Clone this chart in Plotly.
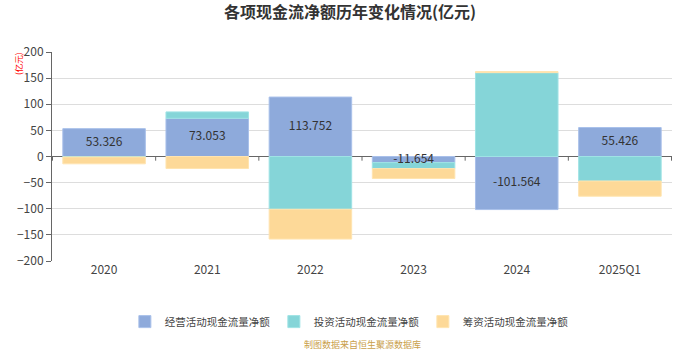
import plotly.graph_objects as go

categories = ["2020", "2021", "2022", "2023", "2024", "2025Q1"]
operating = [53.326, 73.053, 113.752, -11.654, -101.564, 55.426]
investing = [-1.0, 12.3, -101.0, -11.5, 160.5, -47.0]
financing = [-13.0, -23.0, -57.0, -19.0, 2.0, -29.0]
names = ["经营活动现金流量净额", "投资活动现金流量净额", "筹资活动现金流量净额"]
colors = ["#8eaadb", "#85d5d8", "#fdd998"]
line_colors = ["#a9c0ea", "#9fe3e5", "#ffe4b0"]
y_ticks = [-200, -150, -100, -50, 0, 50, 100, 150, 200]

font_family = "Noto Sans CJK SC, Microsoft YaHei, sans-serif"

fig = go.Figure()
fig.add_trace(go.Bar(
    x=categories, y=operating, name=names[0],
    marker=dict(color=colors[0], line=dict(color=line_colors[0], width=1)),
))
fig.add_trace(go.Bar(
    x=categories, y=investing, name=names[1],
    marker=dict(color=colors[1], line=dict(color=line_colors[1], width=1)),
))
fig.add_trace(go.Bar(
    x=categories, y=financing, name=names[2],
    marker=dict(color=colors[2], line=dict(color=line_colors[2], width=1)),
))
# value labels for the operating series, drawn on top of all bars
fig.add_trace(go.Scatter(
    x=categories, y=[v / 2 for v in operating], mode="text",
    text=[f"{v:.3f}" for v in operating], textposition="middle center",
    textfont=dict(size=12, color="#333333"), showlegend=False, hoverinfo="skip",
))

# small category-boundary ticks on the zero axis line
shapes = []
for i in range(len(categories) + 1):
    shapes.append(dict(type="line", xref="x", yref="y", x0=i - 0.5, x1=i - 0.5,
                       y0=0, y1=-8, line=dict(color="#666666", width=1)))

fig.update_layout(
    width=700, height=350,
    barmode="relative", bargap=0.2,
    plot_bgcolor="white", paper_bgcolor="white",
    margin=dict(l=52, r=28, t=52, b=89),
    font=dict(family=font_family, size=12, color="#333333"),
    title=dict(text="<b>各项现金流净额历年变化情况(亿元)</b>", x=0.5, xanchor="center",
               y=0.964, yanchor="middle", font=dict(size=16, color="#333333")),
    legend=dict(orientation="h", x=0.478, xanchor="center", y=-0.29, yanchor="middle",
                font=dict(size=10.5, color="#444444"), traceorder="normal",
                itemwidth=30, entrywidth=104, entrywidthmode="pixels"),
    showlegend=True,
    shapes=shapes,
    annotations=[
        dict(text="(亿元)", xref="paper", yref="paper", x=-0.054, y=0.945,
             xanchor="center", yanchor="middle",
             textangle=-90, showarrow=False, font=dict(size=8.5, color="#ff0000")),
        dict(text="制图数据来自恒生聚源数据库", xref="paper", yref="paper", x=0.5, y=-0.44,
             showarrow=False, font=dict(size=9, color="#c9a04a")),
    ],
)
fig.update_yaxes(
    range=[-200, 200], tickvals=y_ticks, showgrid=True, gridcolor="#dddddd", gridwidth=1,
    zeroline=True, zerolinecolor="#666666", zerolinewidth=1,
    showline=True, linecolor="#666666", ticks="outside", ticklen=5, tickcolor="#666666",
    tickfont=dict(size=12, color="#444444"),
)
fig.update_xaxes(
    showline=False, ticks="", tickfont=dict(size=12, color="#444444"),
)
fig.write_html("out.html")
